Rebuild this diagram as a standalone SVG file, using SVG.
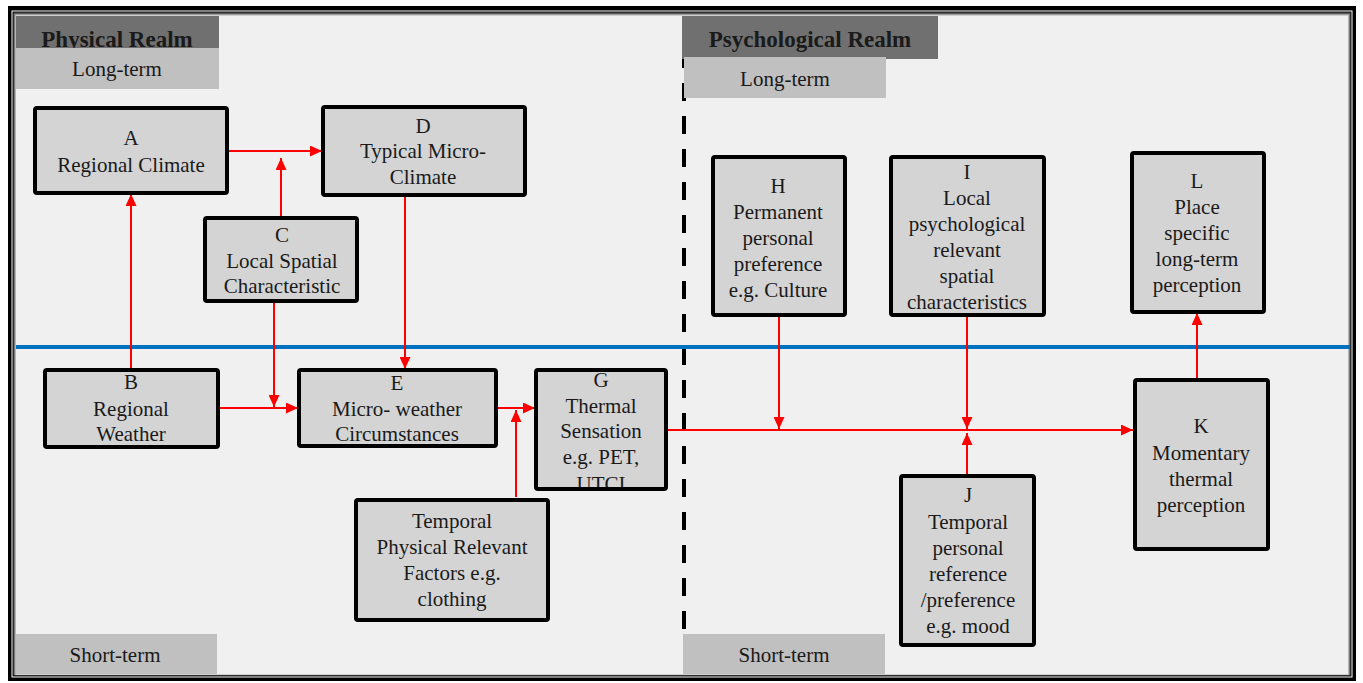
<svg xmlns="http://www.w3.org/2000/svg" width="1363" height="683" viewBox="0 0 1363 683">
<style>
.node rect{fill:#d4d4d4;stroke:#000;stroke-width:4}
.node text,.lbl{font-family:"Liberation Serif","Times New Roman",serif;font-size:21px;fill:#1a1a1a;text-anchor:middle}
.hdr{font-family:"Liberation Serif","Times New Roman",serif;font-size:23px;font-weight:bold;fill:#1a1a1a;text-anchor:middle}
.conn line{stroke:#ff0000;stroke-width:2;fill:none}
.arr{marker-end:url(#ah)}
</style>
<defs>
<marker id="ah" markerUnits="userSpaceOnUse" markerWidth="12" markerHeight="11" refX="12" refY="5.5" orient="auto">
<path d="M0,0 L12,5.5 L0,11 z" fill="#ff0000"/>
</marker>
<clipPath id="gclip"><rect x="538" y="372" width="126" height="115"/></clipPath>
</defs>
<rect x="0" y="0" width="1363" height="683" fill="#ffffff"/>
<g id="frame">
<rect x="8" y="6" width="1348" height="675" fill="#000"/>
<rect x="12" y="11" width="1340" height="666" fill="none" stroke="#ffffff" stroke-width="1"/>
<rect x="13.5" y="12.5" width="1337" height="663" fill="#5a5a5a"/>
<rect x="14.5" y="14" width="1335" height="661" fill="#9a9a9a"/>
<rect x="15.5" y="15" width="1333" height="660" fill="#d0d0d0"/>
<rect x="16" y="16" width="1332" height="658" fill="#f0f0f0"/>
</g>
<g id="separators">
<line x1="684" y1="17" x2="684" y2="633" stroke="#000" stroke-width="4" stroke-dasharray="18 15"/>
<line x1="16" y1="347" x2="1350" y2="347" stroke="#0070c0" stroke-width="4"/>
</g>
<g id="headers">
<rect x="16" y="16" width="203" height="33" fill="#707070"/>
<text class="hdr" x="117" y="47">Physical Realm</text>
<rect x="16" y="48" width="203" height="41" fill="#c0c0c0"/>
<text class="lbl" x="117" y="76">Long-term</text>
<rect x="682" y="16" width="256" height="43" fill="#707070"/>
<text class="hdr" x="810" y="47">Psychological Realm</text>
<rect x="684" y="57" width="202" height="41" fill="#c0c0c0"/>
<text class="lbl" x="785" y="86">Long-term</text>
<rect x="16" y="634" width="201" height="40" fill="#c0c0c0"/>
<text class="lbl" x="115" y="662">Short-term</text>
<rect x="683" y="634" width="202" height="40" fill="#c0c0c0"/>
<text class="lbl" x="784" y="662">Short-term</text>
</g>
<g id="connectors" class="conn">
<line class="arr" x1="131" y1="370" x2="131" y2="194"/>
<line class="arr" x1="227" y1="151" x2="322" y2="151"/>
<line class="arr" x1="281" y1="218" x2="281" y2="158"/>
<line class="arr" x1="405" y1="195" x2="405" y2="369"/>
<line class="arr" x1="274" y1="301" x2="274" y2="407"/>
<line class="arr" x1="218" y1="408" x2="298" y2="408"/>
<line class="arr" x1="496" y1="408" x2="535" y2="408"/>
<line class="arr" x1="516" y1="497" x2="516" y2="410"/>
<line class="arr" x1="666" y1="430" x2="1133" y2="430"/>
<line class="arr" x1="779" y1="315" x2="779" y2="429"/>
<line class="arr" x1="967" y1="315" x2="967" y2="429"/>
<line class="arr" x1="967" y1="476" x2="967" y2="433"/>
<line class="arr" x1="1197" y1="380" x2="1197" y2="313"/>
</g>
<g id="nodeA" class="node">
<rect x="35" y="108" width="192" height="85" rx="2"/>
<text x="131" y="145">A</text>
<text x="131" y="172">Regional Climate</text>
</g>
<g id="nodeD" class="node">
<rect x="323" y="107" width="202" height="88" rx="2"/>
<text x="423" y="133">D</text>
<text x="423" y="158">Typical Micro-</text>
<text x="423" y="184">Climate</text>
</g>
<g id="nodeC" class="node">
<rect x="205" y="218" width="152" height="83" rx="2"/>
<text x="282" y="242">C</text>
<text x="282" y="268">Local Spatial</text>
<text x="282" y="293">Characteristic</text>
</g>
<g id="nodeB" class="node">
<rect x="45" y="370" width="173" height="77" rx="2"/>
<text x="131" y="389">B</text>
<text x="131" y="416">Regional</text>
<text x="131" y="441">Weather</text>
</g>
<g id="nodeE" class="node">
<rect x="299" y="370" width="197" height="76" rx="2"/>
<text x="397" y="390">E</text>
<text x="397" y="416">Micro- weather</text>
<text x="397" y="441">Circumstances</text>
</g>
<g id="nodeG" class="node">
<rect x="536" y="370" width="130" height="119" rx="2"/>
<g clip-path="url(#gclip)">
<text x="601" y="387">G</text>
<text x="601" y="413">Thermal</text>
<text x="601" y="438">Sensation</text>
<text x="601" y="464">e.g. PET,</text>
<text x="601" y="491">UTCI</text>
</g>
</g>
<g id="nodeF" class="node">
<rect x="356" y="500" width="192" height="120" rx="2"/>
<text x="452" y="528">Temporal</text>
<text x="452" y="554">Physical Relevant</text>
<text x="452" y="580">Factors e.g.</text>
<text x="452" y="606">clothing</text>
</g>
<g id="nodeH" class="node">
<rect x="713" y="157" width="132" height="158" rx="2"/>
<text x="778" y="193">H</text>
<text x="778" y="219">Permanent</text>
<text x="778" y="245">personal</text>
<text x="778" y="271">preference</text>
<text x="778" y="297">e.g. Culture</text>
</g>
<g id="nodeI" class="node">
<rect x="891" y="157" width="153" height="158" rx="2"/>
<text x="967" y="179">I</text>
<text x="967" y="205">Local</text>
<text x="967" y="231">psychological</text>
<text x="967" y="257">relevant</text>
<text x="967" y="283">spatial</text>
<text x="967" y="309">characteristics</text>
</g>
<g id="nodeL" class="node">
<rect x="1132" y="153" width="132" height="159" rx="2"/>
<text x="1197" y="188">L</text>
<text x="1197" y="214">Place</text>
<text x="1197" y="240">specific</text>
<text x="1197" y="266">long-term</text>
<text x="1197" y="292">perception</text>
</g>
<g id="nodeJ" class="node">
<rect x="901" y="476" width="133" height="169" rx="2"/>
<text x="968" y="502">J</text>
<text x="968" y="529">Temporal</text>
<text x="968" y="555">personal</text>
<text x="968" y="581">reference</text>
<text x="968" y="607">/preference</text>
<text x="968" y="633">e.g. mood</text>
</g>
<g id="nodeK" class="node">
<rect x="1135" y="380" width="133" height="169" rx="2"/>
<text x="1201" y="433">K</text>
<text x="1201" y="460">Momentary</text>
<text x="1201" y="486">thermal</text>
<text x="1201" y="512">perception</text>
</g>
</svg>
